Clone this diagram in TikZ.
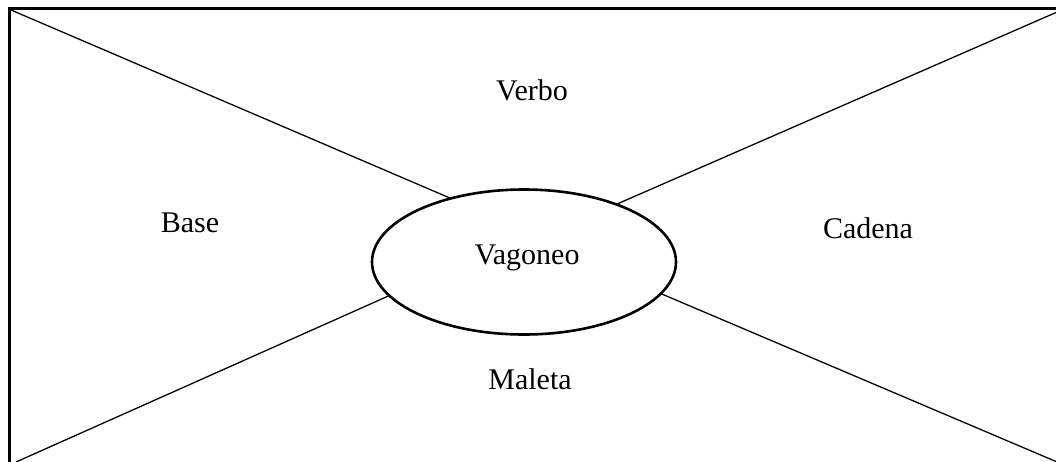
\documentclass[tikz,border=0pt]{standalone}
\usepackage{fontspec}
\setmainfont{Liberation Serif}
\usetikzlibrary{shapes.geometric}
\begin{document}
\begin{tikzpicture}[x=1pt,y=-1pt,
  lbl/.style={font=\fontsize{30}{34}\selectfont, inner sep=0pt},
  spoke/.style={line width=1.3pt},
  hub/.style={ellipse, draw, line width=2.6pt, minimum width=304pt, minimum height=145pt, inner sep=0pt, outer sep=0pt}]
\useasboundingbox (0,0) rectangle (1056,461);
\clip (0,0) rectangle (1056,461);
\draw[line width=3pt] (9.5,8.5) rectangle (1080,490);
\node[hub] (vag) at (524,262) {};
\node[lbl] (tvag) at (527,258) {Vagoneo};
\node[lbl] (verbo) at (532,90) {Verbo};
\node[lbl] (base) at (190,223) {Base};
\node[lbl] (cadena) at (868,228) {Cadena};
\node[lbl] (maleta) at (530,379) {Maleta};
\coordinate (tl) at (11,10);
\coordinate (tr) at (1056,12.5);
\coordinate (bl) at (16,462);
\coordinate (br) at (1056,461.5);
\draw[spoke] (tl) -- (vag.139.8);
\draw[spoke] (tr) -- (vag.32.8);
\draw[spoke] (bl) -- (vag.194.7);
\draw[spoke] (br) -- (vag.347.9);
\end{tikzpicture}
\end{document}
